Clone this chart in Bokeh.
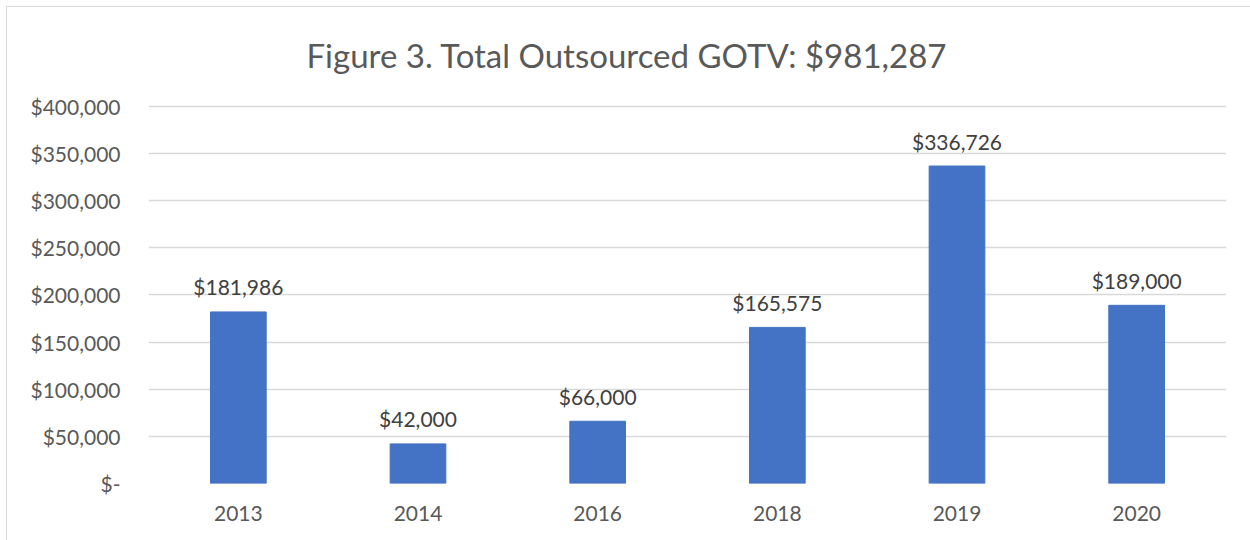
from bokeh.plotting import figure
from bokeh.models import ColumnDataSource, FixedTicker, Title
from bokeh.core.properties import value
from bokeh.embed import file_html
from bokeh.resources import INLINE

years = ["2013", "2014", "2016", "2018", "2019", "2020"]
amounts = [181986, 42000, 66000, 165575, 336726, 189000]
amount_labels = ["$181,986", "$42,000", "$66,000", "$165,575", "$336,726", "$189,000"]
y_ticks = [0, 50000, 100000, 150000, 200000, 250000, 300000, 350000, 400000]
y_tick_labels = ["$-", "$50,000", "$100,000", "$150,000", "$200,000",
                 "$250,000", "$300,000", "$350,000", "$400,000"]
title_text = "Figure 3.  Total Outsourced GOTV: $981,287"

FONT = "Lato"
GRAY = "#595959"

src = ColumnDataSource(dict(x=years, top=amounts, label=amount_labels))

p = figure(x_range=years, y_range=(0, 402000), width=1250, height=540,
           output_backend="svg", toolbar_location=None,
           min_border_left=148, min_border_right=24, min_border_top=104,
           min_border_bottom=57)
p.border_fill_color = None
p.styles = {"background": "linear-gradient(#d9d9d9,#d9d9d9) 6px 6px / 1px calc(100% - 6px) no-repeat, "
                          "linear-gradient(#d9d9d9,#d9d9d9) 6px 6px / calc(100% - 6px) 1px no-repeat, white"}

p.title = Title(text=title_text, align="left", text_font=FONT,
                text_font_size="33px", text_font_style="normal",
                text_color=GRAY, offset=158)
p.title.standoff = 60

p.vbar(x="x", top="top", width=0.31, source=src, color="#4472C4")
p.text(x="x", y="top", text="label", source=src, text_align="center",
       text_baseline="middle", y_offset=-25, text_font=value(FONT),
       text_font_size="21px", text_color="#404040")

p.outline_line_color = None
p.xgrid.grid_line_color = None
p.ygrid.grid_line_color = "#d9d9d9"
p.ygrid.grid_line_width = 1.3

p.yaxis.ticker = FixedTicker(ticks=y_ticks)
p.yaxis.major_label_overrides = {t: l for t, l in zip(y_ticks, y_tick_labels)}
for ax in (p.xaxis, p.yaxis):
    ax.axis_line_color = None
    ax.major_tick_line_color = None
    ax.minor_tick_line_color = None
    ax.major_tick_out = 0
    ax.major_tick_in = 0
    ax.major_label_text_font = FONT
    ax.major_label_text_font_size = "21px"
    ax.major_label_text_color = GRAY
p.yaxis.major_label_standoff = 28
p.xaxis.major_label_standoff = 22
p.x_range.range_padding = 0

open("out.html", "w").write(file_html(p, INLINE))
